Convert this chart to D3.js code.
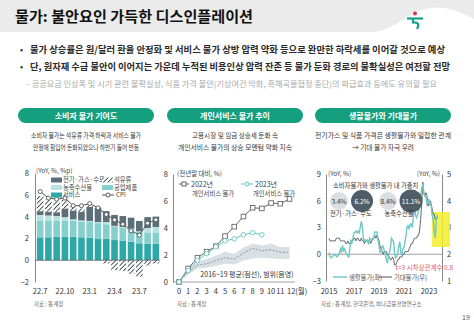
<!DOCTYPE html>
<html>
<head>
<meta charset="utf-8">
<script src="https://cdn.jsdelivr.net/npm/d3@7"></script>
<style>
body { margin: 0; background: #fff; }
svg { display: block; font-family: "Noto Sans CJK KR", "Noto Sans", sans-serif; }
</style>
</head>
<body>
<svg id="page" width="474" height="321"></svg>
<script>
// ---- chart 1 : 소비자 물가 기여도 ----
var cpiMonths = ["22.7","22.8","22.9","22.10","22.11","22.12","23.1","23.2","23.3","23.4","23.5","23.6","23.7","23.8","23.9"];
var cpiTickLabels = ["22.7","22.10","23.1","23.4","23.7"];
var svcContrib  = [2.1, 2.1, 2.15, 2.15, 2.15, 2.1, 2.05, 2.0, 1.95, 1.85, 1.8, 1.7, 1.55, 1.5, 1.5];
var indContrib  = [1.55, 1.55, 1.5, 1.5, 1.45, 1.45, 1.45, 1.4, 1.35, 1.25, 1.2, 1.15, 1.05, 1.05, 1.05];
var agriContrib = [0.5, 0.45, 0.4, 0.3, 0.15, 0.1, 0.1, 0.1, 0.2, 0.05, 0.05, 0.05, 0.05, 0.4, 0.5];
var utilContrib = [0.35, 0.35, 0.35, 0.8, 0.8, 0.8, 1.3, 1.3, 1.0, 1.0, 1.0, 1.0, 0.95, 1.0, 0.95];
var oilContrib  = [1.4, 1.1, 1.0, 0.8, 0.4, 0.3, 0.15, 0.05, -0.3, -0.9, -1.0, -1.25, -1.5, -0.5, -0.3];
var cpiYoY      = [6.3, 5.7, 5.6, 5.7, 5.0, 5.0, 5.2, 4.8, 4.2, 3.7, 3.3, 2.7, 2.3, 3.4, 3.7];

// ---- chart 2 : 개인서비스 물가 추이 ----
var monthIdx   = [0,1,2,3,4,5,6,7,8,9,10,11,12];
var monthTicks = ["0","1","2","3","4","5","6","7","8","9","10","11","12(월)"];
var svc2022 = [0, 1.0, 1.8, 2.25, 2.65, 3.4, 4.1, 4.85, 5.5, 5.45, 5.85, 5.8, 6.15];
var svc2023 = [0, 0.85, 1.6, 2.1, 2.6, 3.05, 3.2, 3.5, 3.65, 3.5];
var avg1619 = [0, 0.75, 1.25, 1.35, 1.6, 1.8, 1.7, 2.15, 2.5, 2.3, 2.4, 2.2, 2.2];
var low1619 = [0, 0.55, 1.0, 1.05, 1.2, 1.35, 1.3, 1.6, 1.75, 1.8, 1.75, 1.7, 1.7];
var high1619 = [0, 0.9, 1.5, 1.7, 1.95, 2.25, 2.1, 2.55, 2.85, 2.7, 2.85, 2.6, 2.6];

// ---- chart 3 : 생활물가와 기대물가 (monthly, 2015.1 ~ 2023.9) ----
var yearTicks = [2015, 2017, 2019, 2021, 2023];
var life2015 = [0.2, -0.3, -0.4, -0.3, -0.2, 0.0, -0.1, -0.2, -0.3, 0.0, 0.1, 0.6];
var life2016 = [0.3, 1.0, 0.4, 0.6, 0.2, 0.0, -0.2, -0.3, 0.6, 1.5, 1.3, 1.8];
var life2017 = [2.4, 2.5, 2.6, 2.4, 2.6, 2.4, 3.0, 3.7, 3.1, 1.8, 1.5, 1.6];
var life2018 = [1.5, 1.6, 1.1, 1.8, 1.6, 1.6, 1.6, 1.8, 2.5, 2.5, 2.5, 1.6];
var life2019 = [1.1, 0.2, 0.3, 0.9, 0.9, 0.4, 0.0, -0.6, -1.0, -0.2, 0.2, 0.8];
var life2020 = [1.8, 1.6, 1.4, 0.1, -0.4, -0.2, 0.1, 0.9, 1.4, 0.2, -0.1, 0.6];
var life2021 = [0.7, 1.4, 2.2, 3.1, 3.2, 2.8, 3.4, 3.4, 3.0, 4.2, 5.2, 4.4];
var life2022 = [4.1, 4.4, 4.9, 5.7, 6.7, 7.4, 7.9, 6.8, 6.5, 6.5, 5.5, 6.0];
var life2023 = [6.1, 5.5, 5.5, 4.4, 3.9, 2.6, 1.8, 3.9, 4.4];
var exp2015 = [2.6, 2.5, 2.5, 2.5, 2.5, 2.5, 2.5, 2.6, 2.6, 2.6, 2.6, 2.5];
var exp2016 = [2.5, 2.5, 2.5, 2.5, 2.4, 2.4, 2.5, 2.4, 2.4, 2.5, 2.5, 2.5];
var exp2017 = [2.6, 2.6, 2.5, 2.6, 2.6, 2.5, 2.5, 2.6, 2.5, 2.5, 2.4, 2.5];
var exp2018 = [2.5, 2.5, 2.5, 2.5, 2.4, 2.5, 2.6, 2.6, 2.7, 2.6, 2.7, 2.6];
var exp2019 = [2.5, 2.3, 2.2, 2.1, 2.0, 2.1, 2.1, 2.1, 2.0, 1.9, 1.9, 1.8];
var exp2020 = [1.8, 1.9, 1.8, 1.6, 1.6, 1.7, 1.8, 1.8, 1.9, 1.9, 1.9, 2.0];
var exp2021 = [2.0, 2.1, 2.1, 2.1, 2.1, 2.2, 2.3, 2.4, 2.4, 2.5, 2.6, 2.6];
var exp2022 = [2.6, 2.7, 2.7, 2.9, 3.3, 3.9, 4.7, 4.3, 4.2, 4.3, 4.2, 3.8];
var exp2023 = [3.9, 4.0, 3.9, 3.7, 3.5, 3.5, 3.3, 3.3, 3.4];
var weightLabels = ["3.4%", "6.2%", "8.4%", "11.1%"];

var teal = "#14a07e";
var svg = d3.select("#page");

// pattern for 석유류
var defs = svg.append("defs");
var pat = defs.append("pattern").attr("id", "hatch")
  .attr("patternUnits", "userSpaceOnUse").attr("width", 3.2).attr("height", 3.2)
  .attr("patternTransform", "rotate(45)");
pat.append("rect").attr("width", 3.2).attr("height", 3.2).attr("fill", "#fff");
pat.append("line").attr("x1", 0).attr("y1", 0).attr("x2", 0).attr("y2", 3.2)
  .attr("stroke", "#2e3a40").attr("stroke-width", 1.7);

// ---------- header ----------
svg.append("rect").attr("width", 474).attr("height", 32).attr("fill", "#ebebeb");
svg.append("path").attr("d", "M372,32 C394,32 408,10 432,8 C450,6 462,13 474,19 L474,32 Z").attr("fill", "#fff");
svg.append("text").attr("x", 15).attr("y", 22).attr("font-size", 14.5).attr("font-weight", 700)
  .attr("fill", "#111").attr("textLength", 238).attr("lengthAdjust", "spacingAndGlyphs")
  .text("물가: 불안요인 가득한 디스인플레이션");
// logo
svg.append("circle").attr("cx", 415).attr("cy", 13.5).attr("r", 2).attr("fill", "#e0344c");
svg.append("path").attr("d", "M407,18.5 L423,18.5").attr("stroke", "#14a08a").attr("stroke-width", 2.2);
svg.append("path").attr("d", "M413,19 L413,22.5 Q421,22 417,29").attr("fill", "none")
  .attr("stroke", "#14a08a").attr("stroke-width", 2.2);

// ---------- bullets ----------
var bullets = [
  {y: 53, text: "물가 상승률은 원/달러 환율 안정화 및 서비스 물가 상방 압력 약화 등으로 완만한 하락세를 이어갈 것으로 예상", w: 415},
  {y: 70, text: "단, 원자재 수급 불안이 이어지는 가운데 누적된 비용인상 압력 잔존 등 물가 둔화 경로의 불확실성은 여전할 전망", w: 420}
];
bullets.forEach(function(b) {
  svg.append("text").attr("x", 20).attr("y", b.y).attr("font-size", 9).attr("fill", "#333").text("•");
  svg.append("text").attr("x", 30).attr("y", b.y).attr("font-size", 9.5).attr("font-weight", 700)
    .attr("fill", "#2a2a2a").attr("textLength", b.w).attr("lengthAdjust", "spacingAndGlyphs").text(b.text);
});
svg.append("text").attr("x", 27).attr("y", 86.5).attr("font-size", 8).attr("fill", "#a9a9a9")
  .attr("textLength", 410).attr("lengthAdjust", "spacingAndGlyphs")
  .text("- 공공요금 인상폭 및 시기 관련 불확실성, 식품 가격 불안(기상여건 악화, 흑해곡물협정 중단)의 파급효과 등에도 유의할 필요");

// ---------- panel headers ----------
var panels = [
  {x: 18, title: "소비자 물가 기여도", l1: "소비자 물가는 석유류 가격 하락과 서비스 물가", l2: "안정에 힘입어 둔화되었으나 하반기 들어 반등", w1: 110, w2: 106},
  {x: 167, title: "개인서비스 물가 추이", l1: "고용시장 및 임금 상승세 둔화 속", l2: "개인서비스 물가의 상승 모멘텀 약화 지속", w1: 86, w2: 114},
  {x: 315, title: "생활물가와 기대물가", l1: "전기가스 및 식품 가격은 생활물가와 밀접한 관계", l2: "→ 기대 물가 자극 우려", w1: 136, w2: 62}
];
panels.forEach(function(p) {
  var cx = p.x + 68;
  svg.append("rect").attr("x", p.x).attr("y", 108).attr("width", 136).attr("height", 15)
    .attr("rx", 7.5).attr("fill", teal);
  svg.append("text").attr("x", cx).attr("y", 118.5).attr("text-anchor", "middle")
    .attr("font-size", 8).attr("font-weight", 700).attr("fill", "#fff").text(p.title);
  svg.append("text").attr("x", cx).attr("y", 138).attr("text-anchor", "middle").attr("font-size", 6.5)
    .attr("fill", "#333").attr("textLength", p.w1).attr("lengthAdjust", "spacingAndGlyphs").text(p.l1);
  svg.append("text").attr("x", cx).attr("y", 150).attr("text-anchor", "middle").attr("font-size", 6.5)
    .attr("fill", "#333").attr("textLength", p.w2).attr("lengthAdjust", "spacingAndGlyphs").text(p.l2);
});

function styleAxis(g) {
  g.selectAll("text").attr("font-size", 7.5).attr("fill", "#333").attr("font-family", "'Noto Sans CJK KR', sans-serif");
  g.selectAll(".domain").attr("stroke", "#888");
  g.selectAll(".tick line").attr("stroke", "#888");
}

// ================= chart 1 =================
var x1 = d3.scaleBand().domain(cpiMonths).range([36, 160]).paddingInner(0.2).paddingOuter(0.1);
var y1 = d3.scaleLinear().domain([-2, 8]).range([282, 173]);

var stackColors = ["#2ea8a6", "#86cfcf", "#b9e3e3", "#5c6e77"];
cpiMonths.forEach(function(m, i) {
  var parts = [svcContrib[i], indContrib[i], agriContrib[i], utilContrib[i]];
  var base = 0;
  parts.forEach(function(v, k) {
    svg.append("rect").attr("x", x1(m)).attr("width", x1.bandwidth())
      .attr("y", y1(base + v)).attr("height", y1(base) - y1(base + v)).attr("fill", stackColors[k]);
    base += v;
  });
  var o = oilContrib[i];
  if (o >= 0) {
    svg.append("rect").attr("x", x1(m)).attr("width", x1.bandwidth())
      .attr("y", y1(base + o)).attr("height", y1(base) - y1(base + o)).attr("fill", "url(#hatch)");
  } else {
    svg.append("rect").attr("x", x1(m)).attr("width", x1.bandwidth())
      .attr("y", y1(0)).attr("height", y1(o) - y1(0)).attr("fill", "url(#hatch)");
  }
});

var ax1 = svg.append("g").attr("transform", "translate(35,0)")
  .call(d3.axisLeft(y1).tickValues([-2, 0, 2, 4, 6, 8]).tickSize(0).tickPadding(6));
styleAxis(ax1);
svg.append("line").attr("x1", 35).attr("x2", 160).attr("y1", y1(0)).attr("y2", y1(0))
  .attr("stroke", "#555").attr("stroke-width", 0.8);
cpiTickLabels.forEach(function(t) {
  var cx = x1(t) + x1.bandwidth() / 2;
  svg.append("text").attr("x", cx).attr("y", 294).attr("text-anchor", "middle")
    .attr("font-size", 7.5).attr("fill", "#333").text(t);
});

var cpiLine = d3.line()
  .x(function(d, i) { return x1(cpiMonths[i]) + x1.bandwidth() / 2; })
  .y(function(d) { return y1(d); });
svg.append("path").datum(cpiYoY).attr("d", cpiLine).attr("fill", "none")
  .attr("stroke", "#555").attr("stroke-width", 1);
svg.selectAll(".cpiDot").data(cpiYoY).enter().append("circle")
  .attr("cx", function(d, i) { return x1(cpiMonths[i]) + x1.bandwidth() / 2; })
  .attr("cy", function(d) { return y1(d); }).attr("r", 2)
  .attr("fill", "#fff").attr("stroke", "#555").attr("stroke-width", 0.9);

// legend 1
svg.append("text").attr("x", 36).attr("y", 173).attr("font-size", 6.5).attr("fill", "#444").text("(YoY, %, %p)");
var leg1 = [
  {x: 51, y: 180, fill: "#5c6e77", label: "전기·가스·수도"},
  {x: 102, y: 180, fill: "url(#hatch)", label: "석유류"},
  {x: 51, y: 187.5, fill: "#b9e3e3", label: "농축수산물"},
  {x: 102, y: 187.5, fill: "#86cfcf", label: "공업제품"},
  {x: 51, y: 195, fill: "#2ea8a6", label: "서비스"}
];
leg1.forEach(function(l) {
  svg.append("rect").attr("x", l.x).attr("y", l.y - 2.5).attr("width", 11).attr("height", 5).attr("fill", l.fill);
  svg.append("text").attr("x", l.x + 12).attr("y", l.y + 2.3).attr("font-size", 6.3).attr("fill", "#444").text(l.label);
});
svg.append("line").attr("x1", 102).attr("x2", 114).attr("y1", 195).attr("y2", 195).attr("stroke", "#555");
svg.append("circle").attr("cx", 108).attr("cy", 195).attr("r", 2).attr("fill", "#fff").attr("stroke", "#555");
svg.append("text").attr("x", 116).attr("y", 197.3).attr("font-size", 6.3).attr("fill", "#444").text("CPI");

// ================= chart 2 =================
var x2 = d3.scaleLinear().domain([0, 12]).range([179, 289.5]);
var y2 = d3.scaleLinear().domain([0, 8]).range([282, 174]);

svg.append("path").datum(monthIdx)
  .attr("d", d3.area().x(function(d) { return x2(d); })
    .y0(function(d, i) { return y2(low1619[i]); }).y1(function(d, i) { return y2(high1619[i]); }))
  .attr("fill", "#d9e0e4");
svg.append("path").datum(avg1619)
  .attr("d", d3.line().x(function(d, i) { return x2(monthIdx[i]); }).y(function(d) { return y2(d); }))
  .attr("fill", "none").attr("stroke", "#8a98a2").attr("stroke-width", 1).attr("stroke-dasharray", "2,1.5");

var ax2 = svg.append("g").attr("transform", "translate(173,0)")
  .call(d3.axisLeft(y2).tickValues([0, 2, 4, 6, 8]).tickSize(0).tickPadding(5));
styleAxis(ax2);
svg.append("line").attr("x1", 173).attr("x2", 295).attr("y1", y2(0)).attr("y2", y2(0))
  .attr("stroke", "#888").attr("stroke-width", 0.8);
monthIdx.forEach(function(m, i) {
  svg.append("text").attr("x", x2(m)).attr("y", 294).attr("text-anchor", i === 12 ? "start" : "middle")
    .attr("dx", i === 12 ? -2.5 : 0).attr("font-size", 7.5).attr("fill", "#333").text(monthTicks[i]);
});

var line2 = d3.line().x(function(d, i) { return x2(monthIdx[i]); }).y(function(d) { return y2(d); });
svg.append("path").datum(svc2022).attr("d", line2).attr("fill", "none").attr("stroke", "#666").attr("stroke-width", 1);
svg.selectAll(".sq22").data(svc2022).enter().append("rect")
  .attr("x", function(d, i) { return x2(monthIdx[i]) - 2.3; })
  .attr("y", function(d) { return y2(d) - 2.3; })
  .attr("width", 4.6).attr("height", 4.6).attr("fill", "#fff").attr("stroke", "#666").attr("stroke-width", 0.9);
svg.append("path").datum(svc2023).attr("d", line2).attr("fill", "none").attr("stroke", "#6cc7c5").attr("stroke-width", 1);
svg.selectAll(".c23").data(svc2023).enter().append("circle")
  .attr("cx", function(d, i) { return x2(monthIdx[i]); })
  .attr("cy", function(d) { return y2(d); }).attr("r", 2.3)
  .attr("fill", "#fff").attr("stroke", "#6cc7c5").attr("stroke-width", 0.9);

svg.append("text").attr("x", 177).attr("y", 176).attr("font-size", 6.5).attr("fill", "#444").text("(전년말 대비, %)");
svg.append("line").attr("x1", 179).attr("x2", 189).attr("y1", 184).attr("y2", 184).attr("stroke", "#666");
svg.append("rect").attr("x", 182).attr("y", 182).attr("width", 4).attr("height", 4).attr("fill", "#fff").attr("stroke", "#666");
svg.append("text").attr("x", 191).attr("y", 187).attr("font-size", 7).attr("fill", "#444").text("2022년");
svg.append("text").attr("x", 192).attr("y", 196).attr("font-size", 6.3).attr("fill", "#444").text("개인서비스 물가");
svg.append("line").attr("x1", 241).attr("x2", 253).attr("y1", 184).attr("y2", 184).attr("stroke", "#6cc7c5");
svg.append("circle").attr("cx", 247).attr("cy", 184).attr("r", 2).attr("fill", "#fff").attr("stroke", "#6cc7c5");
svg.append("text").attr("x", 255).attr("y", 187).attr("font-size", 7).attr("fill", "#444").text("2023년");
svg.append("text").attr("x", 253).attr("y", 196).attr("font-size", 6.3).attr("fill", "#444").text("개인서비스 물가");
svg.append("text").attr("x", 247).attr("y", 277).attr("text-anchor", "middle").attr("font-size", 7)
  .attr("fill", "#333").text("2016~19 평균(점선), 범위(음영)");

// ================= chart 3 =================
var x3 = d3.scaleLinear().domain([2015, 2023]).range([329, 429]);
var yL = d3.scaleLinear().domain([-3, 9]).range([281, 174]);
var yR = d3.scaleLinear().domain([1, 5]).range([281, 174]);

var lifeAll = [].concat(life2015, life2016, life2017, life2018, life2019, life2020, life2021, life2022, life2023);
var expAll = [].concat(exp2015, exp2016, exp2017, exp2018, exp2019, exp2020, exp2021, exp2022, exp2023);
function monthX(i) { return x3(2015 + i / 12); }

var axL = svg.append("g").attr("transform", "translate(326,0)")
  .call(d3.axisLeft(yL).tickValues([-3, 0, 3, 6, 9]).tickFormat(d3.format("d")).tickSize(0).tickPadding(5));
styleAxis(axL);
var axR = svg.append("g").attr("transform", "translate(442,0)")
  .call(d3.axisRight(yR).tickValues([1, 2, 3, 4, 5]).tickFormat(d3.format("d")).tickSize(0).tickPadding(5));
styleAxis(axR);
svg.append("line").attr("x1", 326).attr("x2", 442).attr("y1", yL(0)).attr("y2", yL(0))
  .attr("stroke", "#888").attr("stroke-width", 0.8);
yearTicks.forEach(function(yr) {
  svg.append("text").attr("x", x3(yr)).attr("y", 294).attr("text-anchor", "middle")
    .attr("font-size", 7.5).attr("fill", "#333").text(yr);
});

// highlight box
svg.append("rect").attr("x", 432).attr("y", 212).attr("width", 18).attr("height", 35)
  .attr("fill", "#f5ee2a").attr("opacity", 0.85);

svg.append("path").datum(expAll)
  .attr("d", d3.line().x(function(d, i) { return monthX(i); }).y(function(d) { return yR(d); }))
  .attr("fill", "none").attr("stroke", "#555").attr("stroke-width", 0.9);
svg.append("path").datum(lifeAll)
  .attr("d", d3.line().x(function(d, i) { return monthX(i); }).y(function(d) { return yL(d); }))
  .attr("fill", "none").attr("stroke", "#6dc8c6").attr("stroke-width", 1.4);

svg.append("text").attr("x", 328).attr("y", 176).attr("font-size", 6.5).attr("fill", "#444").text("(YoY, %)");
svg.append("text").attr("x", 440).attr("y", 176).attr("text-anchor", "end").attr("font-size", 6.5).attr("fill", "#444").text("(YoY, %)");
svg.append("text").attr("x", 333).attr("y", 188).attr("font-size", 6.3).attr("fill", "#333").text("소비자물가와 생활물가 내 가중치");

var wCircles = [
  {cx: 339, r: 9, fill: "#dcdfe1", tc: "#333"},
  {cx: 362, r: 11, fill: "#4f5e66", tc: "#fff"},
  {cx: 388, r: 9, fill: "#dcdfe1", tc: "#333"},
  {cx: 411, r: 11.5, fill: "#4f5e66", tc: "#fff"}
];
wCircles.forEach(function(c, i) {
  svg.append("circle").attr("cx", c.cx).attr("cy", 201).attr("r", c.r).attr("fill", c.fill);
  svg.append("text").attr("x", c.cx).attr("y", 203.5).attr("text-anchor", "middle")
    .attr("font-size", 6.5).attr("fill", c.tc).text(weightLabels[i]);
});
svg.append("text").attr("x", 351).attr("y", 216).attr("text-anchor", "middle").attr("font-size", 6.3).attr("fill", "#333").text("전기·가스·수도");
svg.append("text").attr("x", 399).attr("y", 216).attr("text-anchor", "middle").attr("font-size", 6.3).attr("fill", "#333").text("농축수산물");

svg.append("text").attr("x", 453).attr("y", 270).attr("text-anchor", "end").attr("font-size", 6.5)
  .attr("fill", "#e0566c").text("t=3 시차상관계수 0.8");

svg.append("line").attr("x1", 333).attr("x2", 347).attr("y1", 277).attr("y2", 277).attr("stroke", "#6dc8c6").attr("stroke-width", 1.4);
svg.append("text").attr("x", 349).attr("y", 279.5).attr("font-size", 6.3).attr("fill", "#555").text("생활물가(좌)");
svg.append("line").attr("x1", 379).attr("x2", 392).attr("y1", 277).attr("y2", 277).attr("stroke", "#555");
svg.append("text").attr("x", 394).attr("y", 279.5).attr("font-size", 6.3).attr("fill", "#555").text("기대물가(우)");

// ---------- sources / page ----------
svg.append("text").attr("x", 34).attr("y", 306).attr("font-size", 5.5).attr("fill", "#666").text("자료 : 통계청");
svg.append("text").attr("x", 177).attr("y", 306).attr("font-size", 5.5).attr("fill", "#666").text("자료 : 통계청");
svg.append("text").attr("x", 321).attr("y", 306).attr("font-size", 5.5).attr("fill", "#666").text("자료 : 통계청, 한국은행, 하나금융경영연구소");
svg.append("text").attr("x", 466).attr("y", 320).attr("text-anchor", "middle").attr("font-size", 7).attr("fill", "#555").text("19");
</script>
</body>
</html>
